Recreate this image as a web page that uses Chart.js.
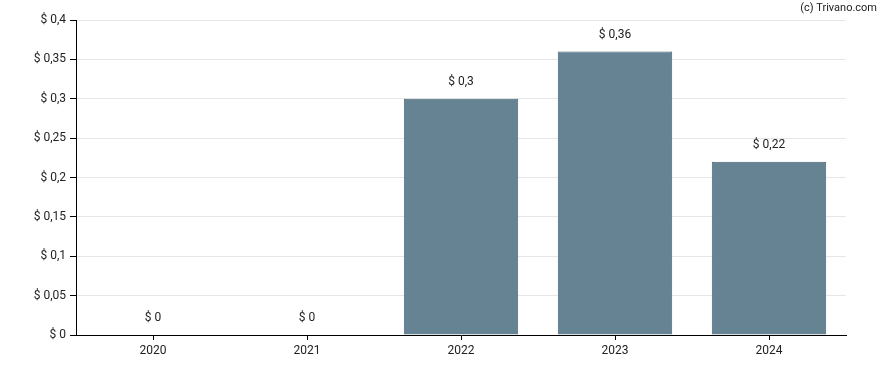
<!DOCTYPE html>
<html>
<head>
<meta charset="utf-8">
<script src="https://cdn.jsdelivr.net/npm/chart.js@4.4.0/dist/chart.umd.min.js"></script>
<style>
  html, body { margin: 0; padding: 0; background: #fff; }
  #wrap { width: 888px; height: 370px; position: relative; }
</style>
</head>
<body>
<div id="wrap"><canvas id="myChart"></canvas></div>
<script>
// dividend per year
var years = ['2020', '2021', '2022', '2023', '2024'];
var dividends = [0, 0, 0.3, 0.36, 0.22];
var yTicks = [0, 0.05, 0.1, 0.15, 0.2, 0.25, 0.3, 0.35, 0.4];

function fmt(v) {
  var r = Math.round(v * 100) / 100;
  return '$ ' + String(r).replace('.', ',');
}

// value labels above the bars + copyright text
var labelsPlugin = {
  id: 'valueLabels',
  afterDatasetsDraw: function(chart) {
    var ctx = chart.ctx;
    var meta = chart.getDatasetMeta(0);
    ctx.save();
    ctx.font = '12px Roboto';
    ctx.fillStyle = '#222';
    ctx.textAlign = 'center';
    ctx.textBaseline = 'middle';
    meta.data.forEach(function(bar, i) {
      ctx.fillText(fmt(dividends[i]), bar.x, bar.y - 17);
    });
    ctx.font = '11px Roboto';
    ctx.textAlign = 'right';
    ctx.fillText('(c) Trivano.com', 877, 8);
    ctx.restore();
  }
};

var ctx = document.getElementById('myChart').getContext('2d');
new Chart(ctx, {
  type: 'bar',
  data: {
    labels: years,
    datasets: [{
      data: dividends,
      backgroundColor: '#668394',
      borderColor: '#48637a',
      borderWidth: 1,
      borderSkipped: 'bottom',
      categoryPercentage: 1,
      barPercentage: 0.743
    }]
  },
  plugins: [labelsPlugin],
  options: {
    responsive: true,
    maintainAspectRatio: false,
    animation: false,
    layout: { padding: { top: 20, right: 42, left: 0, bottom: 0 } },
    plugins: {
      legend: { display: false },
      tooltip: { enabled: false }
    },
    scales: {
      x: {
        offset: true,
        grid: {
          offset: false,
          drawOnChartArea: false,
          tickColor: '#000',
          tickLength: 5
        },
        border: { color: '#000', width: 1 },
        ticks: {
          color: '#222',
          font: { family: 'Roboto', size: 12 },
          padding: 4
        },
        afterFit: function(scale) { scale.height = 35; }
      },
      y: {
        min: 0,
        max: 0.4,
        afterBuildTicks: function(scale) {
          scale.ticks = yTicks.map(function(v) { return { value: v }; });
        },
        grid: {
          color: '#e6e6e6',
          tickColor: '#000',
          tickLength: 6
        },
        border: { color: '#000', width: 1 },
        ticks: {
          color: '#222',
          font: { family: 'Roboto', size: 12 },
          padding: 4,
          callback: function(v) { return fmt(v); }
        },
        afterFit: function(scale) { scale.width = 76; }
      }
    }
  }
});
</script>
</body>
</html>
